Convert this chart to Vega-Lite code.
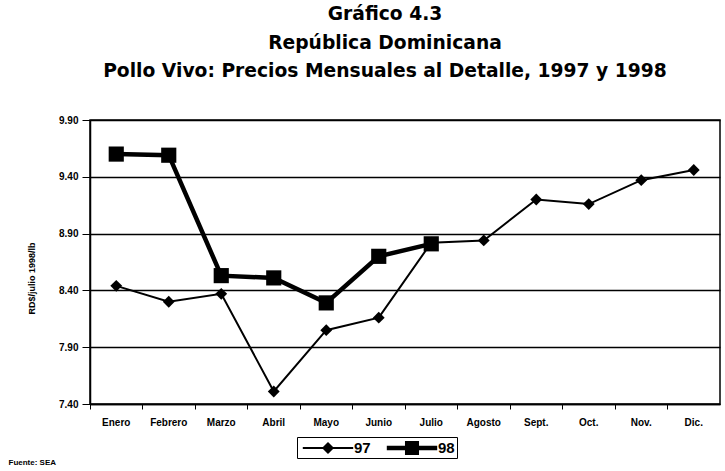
{
  "$schema": "https://vega.github.io/schema/vega-lite/v6.json",
  "width": 630,
  "height": 284,
  "autosize": {"type": "none"},
  "padding": {"left": 90, "top": 120, "right": 5, "bottom": 67},
  "background": "white",
  "title": {
    "text": ["Gráfico 4.3", "República Dominicana", "Pollo Vivo: Precios Mensuales al Detalle, 1997 y 1998"],
    "font": "DejaVu Sans",
    "fontSize": 18.7,
    "fontWeight": "bold",
    "lineHeight": 28.5,
    "offset": 34,
    "dx": -20,
    "anchor": "middle",
    "color": "black"
  },
  "config": {
    "font": "Liberation Sans",
    "view": {"stroke": "black", "strokeWidth": 1.5},
    "axis": {"labelColor": "black", "titleColor": "black", "domainColor": "black", "tickColor": "black"}
  },
  "data": {
    "values": [
      {"mes": "Enero", "serie": "97", "valor": 8.44},
      {"mes": "Febrero", "serie": "97", "valor": 8.30},
      {"mes": "Marzo", "serie": "97", "valor": 8.37},
      {"mes": "Abril", "serie": "97", "valor": 7.51},
      {"mes": "Mayo", "serie": "97", "valor": 8.05},
      {"mes": "Junio", "serie": "97", "valor": 8.16},
      {"mes": "Julio", "serie": "97", "valor": 8.82},
      {"mes": "Agosto", "serie": "97", "valor": 8.84},
      {"mes": "Sept.", "serie": "97", "valor": 9.20},
      {"mes": "Oct.", "serie": "97", "valor": 9.16},
      {"mes": "Nov.", "serie": "97", "valor": 9.37},
      {"mes": "Dic.", "serie": "97", "valor": 9.46},
      {"mes": "Enero", "serie": "98", "valor": 9.60},
      {"mes": "Febrero", "serie": "98", "valor": 9.59},
      {"mes": "Marzo", "serie": "98", "valor": 8.53},
      {"mes": "Abril", "serie": "98", "valor": 8.51},
      {"mes": "Mayo", "serie": "98", "valor": 8.29},
      {"mes": "Junio", "serie": "98", "valor": 8.70},
      {"mes": "Julio", "serie": "98", "valor": 8.81}
    ]
  },
  "encoding": {
    "x": {
      "field": "mes",
      "type": "ordinal",
      "sort": ["Enero", "Febrero", "Marzo", "Abril", "Mayo", "Junio", "Julio", "Agosto", "Sept.", "Oct.", "Nov.", "Dic."],
      "scale": {"type": "band", "paddingInner": 0, "paddingOuter": 0},
      "axis": {
        "bandPosition": 0,
        "labelAngle": 0,
        "labelFontSize": 10,
        "labelFontWeight": "bold",
        "labelPadding": 8,
        "tickSize": 5,
        "domainWidth": 1.5,
        "title": "Fuente: SEA",
        "titleFontSize": 8,
        "titleFontWeight": "bold",
        "titleX": -82,
        "titleY": 58,
        "titleAlign": "left",
        "titleAnchor": "start",
        "titleBaseline": "middle"
      }
    },
    "y": {
      "field": "valor",
      "type": "quantitative",
      "scale": {"domain": [7.4, 9.9], "nice": false, "zero": false},
      "axis": {
        "values": [7.4, 7.9, 8.4, 8.9, 9.4, 9.9],
        "format": ".2f",
        "grid": true,
        "gridColor": "black",
        "gridWidth": 1.5,
        "gridOpacity": 1,
        "tickSize": 8,
        "domainWidth": 1.5,
        "labelFontSize": 10,
        "labelFontWeight": "bold",
        "labelPadding": 4,
        "title": "RD$/julio 1998/lb",
        "titleFontSize": 9,
        "titleFontWeight": "bold",
        "titleX": -54,
        "titleY": 158,
        "titleBaseline": "bottom"
      }
    }
  },
  "layer": [
    {
      "transform": [{"filter": "datum.serie === '97'"}],
      "mark": {"type": "line", "color": "black", "strokeWidth": 2},
      "encoding": {}
    },
    {
      "transform": [{"filter": "datum.serie === '98'"}],
      "mark": {"type": "line", "color": "black", "strokeWidth": 4.5},
      "encoding": {}
    },
    {
      "transform": [{"filter": "datum.serie === '97'"}],
      "mark": {"type": "point", "shape": "diamond", "filled": true, "color": "black", "opacity": 1, "size": 140}
    },
    {
      "transform": [{"filter": "datum.serie === '98'"}],
      "mark": {"type": "point", "shape": "square", "filled": true, "color": "black", "opacity": 1, "size": 230}
    },
    {
      "transform": [{"filter": "false"}],
      "mark": {"type": "point", "filled": true, "color": "black"},
      "encoding": {
        "shape": {
          "field": "serie",
          "type": "nominal",
          "scale": {
            "domain": ["97", "98"],
            "range": [
              "M-2.8,-0.11L2.8,-0.11L2.8,0.11L-2.8,0.11Z M0,-0.67L0.67,0L0,0.67L-0.67,0Z",
              "M-2.8,-0.25L2.8,-0.25L2.8,0.25L-2.8,0.25Z M-0.78,-0.78L0.78,-0.78L0.78,0.78L-0.78,0.78Z"
            ]
          },
          "legend": {
            "orient": "none",
            "legendX": 207,
            "legendY": 317,
            "direction": "horizontal",
            "title": null,
            "strokeColor": "black",
            "padding": 2,
            "symbolSize": 324,
            "symbolOffset": 20,
            "symbolFillColor": "black",
            "symbolStrokeWidth": 0,
            "symbolOpacity": 1,
            "labelOffset": 17,
            "columnPadding": 12,
            "labelFontSize": 15,
            "labelFontWeight": "bold",
            "labelColor": "black"
          }
        }
      }
    }
  ]
}
